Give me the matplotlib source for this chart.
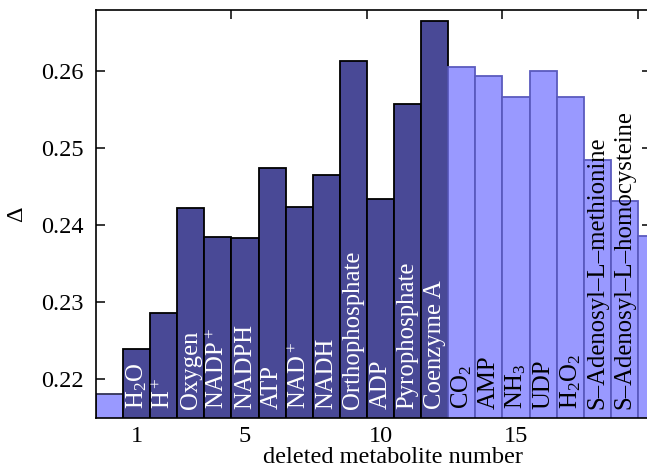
import matplotlib
matplotlib.use('Agg')
import matplotlib.pyplot as plt
import numpy as np

plt.rcParams['font.family'] = ['Liberation Serif', 'DejaVu Serif']
plt.rcParams['mathtext.fontset'] = 'custom'
plt.rcParams['mathtext.rm'] = 'Liberation Serif'
plt.rcParams['mathtext.it'] = 'Liberation Serif:italic'

# delta value for each deleted metabolite (index 0 = nothing deleted)
deltas = [0.2180, 0.2239, 0.2285, 0.2422, 0.2384, 0.2383, 0.2474, 0.2424,
          0.2465, 0.2614, 0.2434, 0.2558, 0.2666, 0.2606, 0.2594, 0.2567,
          0.2600, 0.2567, 0.2485, 0.2431, 0.2386]
names = ['', 'H$_2$O', 'H$^+$', 'Oxygen', 'NADP$^+$', 'NADPH', 'ATP', 'NAD$^+$',
         'NADH', 'Orthophosphate', 'ADP', 'Pyrophosphate', 'Coenzyme A',
         'CO$_2$', 'AMP', 'NH$_3$', 'UDP', 'H$_2$O$_2$',
         'S\u2013Adenosyl\u2013L\u2013methionine', 'S\u2013Adenosyl\u2013L\u2013homocysteine', '']
# which bars are drawn dark
dark = [False] + [True] * 12 + [False] * 8
xtick_labels = [1, 5, 10, 15]

dark_col = '#494996'
light_col = '#9999ff'
light_edge = '#5a5abe'

fig = plt.figure(figsize=(6.47, 4.68), dpi=100)
ax = fig.add_axes([96/647, 1 - 417.7/468, 555.5/647, 407.7/468])

x = np.arange(len(deltas))
for i in x:
    if dark[i]:
        fc, ec = dark_col, 'black'
    else:
        fc, ec = light_col, light_edge
    if i == 0:
        ec = '#333355'
    ax.bar(i, deltas[i], width=1.0, bottom=0, color=fc, edgecolor=ec, linewidth=1.3, zorder=2)
    if names[i]:
        ax.text(i, 0.022, names[i], rotation=90, ha='center', va='bottom',
                color='white' if dark[i] else 'black', fontsize=17.8,
                transform=ax.get_xaxis_transform(), zorder=3)

ax.set_xlim(-0.5, 20.0)
ax.set_ylim(0.2149, 0.268)

ax.set_xticks([4.5, 9.5, 14.5, 19.5])
ax.set_xticklabels([])
ax.set_xticks(xtick_labels, minor=True)
ax.set_xticklabels([str(v) for v in xtick_labels], minor=True)
ax.tick_params(axis='x', which='minor', length=0, pad=6, labelsize=17.5)
ax.tick_params(axis='x', which='major', direction='in', length=6.5, width=1.1, top=True)
ax.set_yticks([0.22, 0.23, 0.24, 0.25, 0.26])
ax.set_yticklabels(['0.22', '0.23', '0.24', '0.25', '0.26'])
ax.tick_params(axis='y', direction='in', length=6.5, width=1.1, right=True, labelsize=17.5, pad=9)
for sp in ax.spines.values():
    sp.set_linewidth(1.2)
    sp.set_zorder(4)

ax.set_xlabel('deleted metabolite number', fontsize=17.5)
ax.xaxis.set_label_coords(0.535, -0.072)
ax.set_ylabel('\u0394', fontsize=17.5)
ax.yaxis.set_label_coords(-0.124, 0.5)

fig.savefig('out.png', dpi=100)
